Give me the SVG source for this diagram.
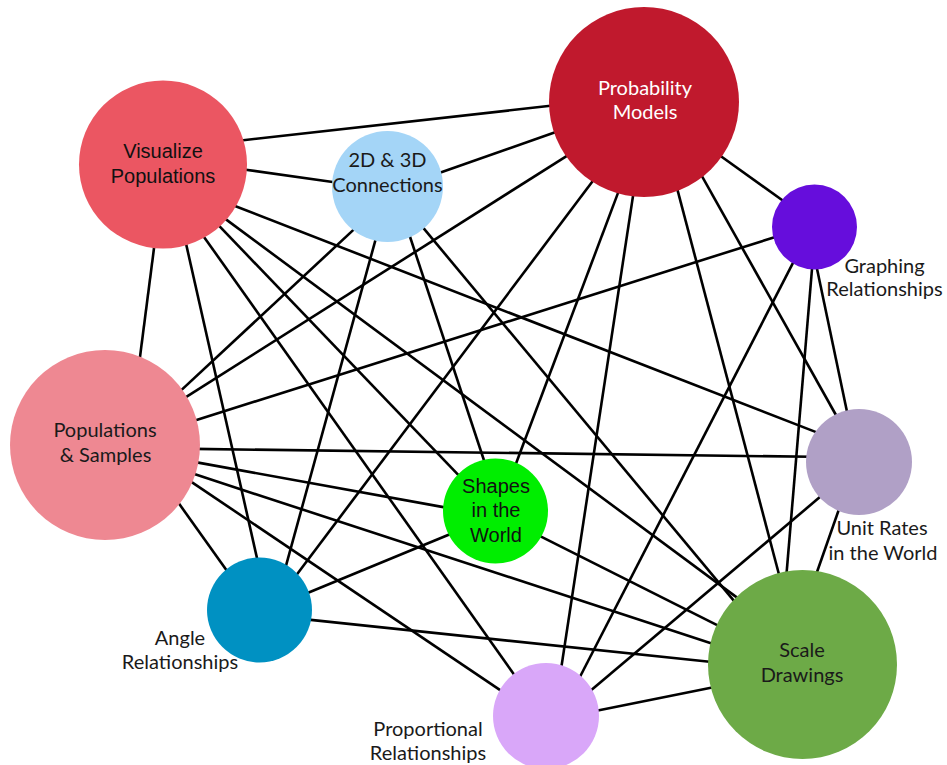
<svg xmlns="http://www.w3.org/2000/svg" width="947" height="765" viewBox="0 0 947 765">
<style>
.e{stroke:#000;stroke-width:2.6;stroke-linecap:butt;fill:none}
.t{font-family:Lato,"Open Sans","Noto Sans",sans-serif;font-size:20px;fill:#1a1a1a;text-anchor:middle}
.a{font-family:"Liberation Sans",Arial,sans-serif;font-size:20px;fill:#111;text-anchor:middle}
.w{fill:#fff}
</style>
<rect width="947" height="765" fill="#fff"/>
<g id="connectors">
<line class="e" x1="239" y1="140.7" x2="555" y2="105.3"/>
<line class="e" x1="242" y1="169.2" x2="338" y2="182.8"/>
<line class="e" x1="154.8" y1="242" x2="139.2" y2="363"/>
<line class="e" x1="231.1" y1="204.5" x2="820.6" y2="433.9"/>
<line class="e" x1="221.9" y1="216.4" x2="739.8" y2="599.6"/>
<line class="e" x1="215.8" y1="222.4" x2="460.9" y2="477.6"/>
<line class="e" x1="201.5" y1="233.4" x2="516.5" y2="677.9"/>
<line class="e" x1="185.4" y1="240.9" x2="258" y2="562.6"/>
<line class="e" x1="436.3" y1="174" x2="558.7" y2="131"/>
<line class="e" x1="357.7" y1="225.9" x2="178.9" y2="392.4"/>
<line class="e" x1="376.6" y1="235.9" x2="285.4" y2="567.8"/>
<line class="e" x1="408.1" y1="231" x2="485.2" y2="464"/>
<line class="e" x1="421.2" y1="225.4" x2="737.1" y2="604.6"/>
<line class="e" x1="570.1" y1="153.8" x2="181.6" y2="399.9"/>
<line class="e" x1="595.6" y1="177.2" x2="294.4" y2="577.8"/>
<line class="e" x1="620.1" y1="187.4" x2="514.6" y2="467.3"/>
<line class="e" x1="633.9" y1="190.1" x2="560.8" y2="670.9"/>
<line class="e" x1="676.5" y1="186.2" x2="779.8" y2="577.5"/>
<line class="e" x1="700.1" y1="172.8" x2="837.9" y2="418.5"/>
<line class="e" x1="717.1" y1="153.5" x2="786.9" y2="203.5"/>
<line class="e" x1="777.7" y1="236.2" x2="191" y2="421.8"/>
<line class="e" x1="795.7" y1="257.7" x2="577.3" y2="682"/>
<line class="e" x1="812.5" y1="263" x2="786.2" y2="577.7"/>
<line class="e" x1="815.8" y1="263.1" x2="847.9" y2="415.9"/>
<line class="e" x1="194" y1="448.9" x2="811.7" y2="456.8"/>
<line class="e" x1="824.6" y1="493.1" x2="588.7" y2="692.2"/>
<line class="e" x1="840" y1="506.3" x2="815" y2="577.7"/>
<line class="e" x1="194.1" y1="461.9" x2="448.9" y2="508.1"/>
<line class="e" x1="304.5" y1="594.3" x2="453.5" y2="532.7"/>
<line class="e" x1="536.6" y1="534.3" x2="722.1" y2="627.7"/>
<line class="e" x1="191.3" y1="473.1" x2="722.4" y2="646.9"/>
<line class="e" x1="188" y1="479.6" x2="505" y2="693.4"/>
<line class="e" x1="176.5" y1="500.1" x2="228.5" y2="572.9"/>
<line class="e" x1="306" y1="619.4" x2="714.3" y2="662.3"/>
<line class="e" x1="594.1" y1="711.2" x2="715.9" y2="686.8"/>
</g>
<g id="visualize-populations">
<circle cx="163" cy="164.5" r="84" fill="#EB5662"/>
<text class="a" x="163" y="158">Visualize</text>
<text class="a" x="163" y="183">Populations</text>
</g>
<g id="connections-2d-3d">
<circle cx="387.5" cy="186.5" r="55.5" fill="#A4D5F7"/>
<text class="t" x="387.5" y="167">2D &amp; 3D</text>
<text class="t" x="387.5" y="192">Connections</text>
</g>
<g id="probability-models">
<circle cx="644" cy="102" r="95" fill="#C0192D"/>
<text class="t w" x="645" y="95">Probability</text>
<text class="t w" x="645" y="119">Models</text>
</g>
<g id="graphing-relationships">
<circle cx="814.5" cy="227" r="42.5" fill="#660DDC"/>
<text class="t" x="884.5" y="273">Graphing</text>
<text class="t" x="884.5" y="296">Relationships</text>
</g>
<g id="populations-samples">
<circle cx="105" cy="445" r="95" fill="#EE8892"/>
<text class="t" x="105" y="437">Populations</text>
<text class="t" x="105.5" y="462">&amp; Samples</text>
</g>
<g id="unit-rates">
<circle cx="859" cy="462" r="53" fill="#B0A0C6"/>
<text class="t" x="882" y="535">Unit Rates</text>
<text class="t" x="883" y="560">in the World</text>
</g>
<g id="shapes-in-the-world">
<circle cx="495.5" cy="511" r="52.5" fill="#00EE00"/>
<text class="a" x="496" y="492.5">Shapes</text>
<text class="a" x="496" y="517">in the</text>
<text class="a" x="496" y="541.7">World</text>
</g>
<g id="angle-relationships">
<circle cx="259.5" cy="610" r="52.5" fill="#0091C2"/>
<text class="t" x="180" y="645">Angle</text>
<text class="t" x="180" y="669">Relationships</text>
</g>
<g id="proportional-relationships">
<circle cx="546" cy="716" r="53" fill="#D9A7F9"/>
<text class="t" x="428" y="736">Proportional</text>
<text class="t" x="428" y="760">Relationships</text>
</g>
<g id="scale-drawings">
<circle cx="802.5" cy="664.5" r="94.5" fill="#6DAA47"/>
<text class="t" x="802" y="657">Scale</text>
<text class="t" x="802" y="682">Drawings</text>
</g>
</svg>
